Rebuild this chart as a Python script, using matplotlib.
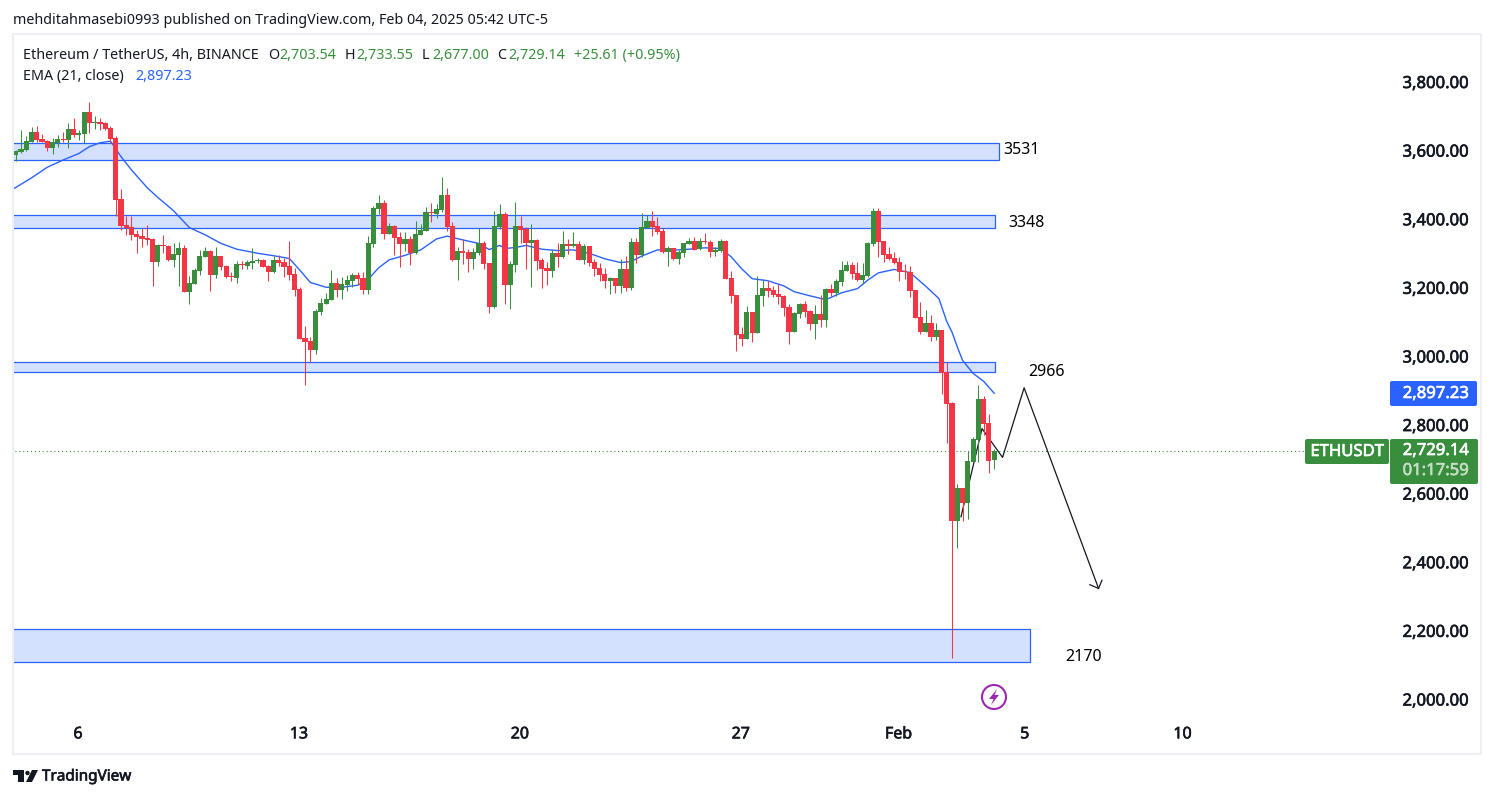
import matplotlib
matplotlib.use('Agg')
import matplotlib.pyplot as plt
import matplotlib.patheffects as pe
from matplotlib.patches import Rectangle, FancyBboxPatch, Circle, Polygon
from matplotlib.transforms import ScaledTranslation

# candles, 4h, oldest first
open_ = [3592,3600,3606,3629,3659,3638,3632,3612,3626,3638,
    3635,3667,3651,3653,3717,3685,3688,3685,3670,3641,
    3463,3387,3382,3361,3355,3350,3347,3280,3329,3326,
    3285,3300,3320,3192,3215,3253,3294,3312,3242,3297,
    3268,3239,3233,3274,3268,3278,3282,3285,3268,3250,
    3285,3280,3268,3245,3201,3058,3049,3023,3134,3157,
    3169,3218,3198,
    3213,3224,3242,3233,3198,3332,3434,3452,3361,3385,3353,3332,3347,3306,3358,3370,
    3426,3420,3431,3475,3385,3286,3312,3309,3289,3306,3335,3277,3149,3382,3420,3213,
    3271,3385,3376,3335,3344,3286,3262,3254,3306,3294,3332,3326,3332,3286,3326,3280,
    3262,3245,3224,3233,3210,3259,3204,3338,3300,3379,3399,3385,3370,3309,3321,3289,
    3305,3332,3340,3317,3340,3338,3308,3311,3340,3233,3183,3069,3055,3133,3072,3180,
    3203,3198,3186,3180,3148,3075,3128,3157,3136,3099,3128,3110,3201,3189,3221,3253,
    3271,3247,3227,3238,3332,3428,3340,3303,3291,3279,3253,3250,3198,3119,3075,3101,3061,
    3081,2958,2868,2524,2620,2577,2696,2760,2880,2810,2703.54]
high = [3606,3664,3647,3673,3676,3653,3635,3641,3650,3659,
    3685,3699,3664,3717,3746,3705,3699,3688,3676,3647,
    3492,3414,3414,3373,3379,3387,3350,3332,3358,3329,
    3335,3338,3329,3239,3262,3315,3323,3315,3323,3297,
    3271,3250,3282,3282,3285,3320,3290,3288,3271,3297,
    3300,3291,3341,3262,3207,3093,3061,3143,3175,3189,
    3256,3233,3236,
    3242,3248,3251,3251,3356,3443,3475,3461,3393,3388,3367,3367,3356,3399,3391,3440,
    3452,3449,3528,3496,3396,3324,3347,3318,3321,3379,3341,3277,3428,3449,3426,3283,
    3455,3414,3382,3391,3347,3291,3280,3315,3335,3370,3347,3367,3341,3332,3326,3289,
    3277,3262,3236,3233,3289,3297,3350,3350,3423,3417,3428,3411,3379,3326,3321,3315,
    3335,3349,3352,3349,3364,3343,3323,3346,3343,3253,3183,3090,3151,3133,3238,3230,
    3224,3209,3215,3183,3157,3133,3160,3166,3139,3154,3183,3203,3215,3230,3282,3282,
    3279,3279,3276,3338,3437,3437,3340,3323,3308,3294,3273,3268,3198,3163,3139,3125,3101,
    3081,2988,2872,2632,2620,2728,2769,2920,2888,2836,2733.55]
low = [3575,3596,3603,3629,3629,3629,3603,3594,3615,3629,
    3612,3644,3635,3626,3657,3667,3664,3664,3626,3414,
    3373,3357,3344,3306,3323,3329,3210,3268,3306,3282,
    3265,3210,3192,3157,3215,3242,3294,3195,3233,3256,
    3233,3224,3218,3259,3259,3259,3277,3265,3224,3248,
    3268,3236,3227,3180,3055,2921,2988,3011,3125,3157,
    3169,3178,3172,
    3195,3207,3213,3187,3187,3324,3420,3347,3361,3300,3265,3312,3271,3303,3358,3370,
    3396,3408,3426,3370,3283,3227,3274,3251,3259,3300,3259,3131,3146,3376,3157,3143,
    3251,3335,3259,3207,3256,3204,3213,3236,3265,3291,3303,3324,3286,3274,3268,3239,
    3224,3204,3187,3189,3189,3195,3198,3277,3294,3379,3356,3361,3306,3268,3286,3274,
    3294,3332,3314,3314,3332,3294,3297,3308,3230,3160,3020,3034,3055,3046,3072,3151,
    3177,3177,3157,3122,3040,3075,3116,3119,3081,3055,3090,3090,3180,3180,3209,3253,
    3230,3224,3215,3236,3326,3294,3279,3285,3273,3224,3230,3177,3116,3069,3075,3049,3052,
    2894,2751,2125,2445,2524,2530,2696,2696,2775,2664,2677.00]
close = [3603,3609,3632,3659,3635,3629,3612,3629,3638,3635,
    3667,3650,3656,3717,3686,3688,3682,3667,3638,3460,
    3385,3379,3357,3352,3347,3344,3280,3329,3326,3285,
    3303,3320,3192,3218,3256,3297,3312,3242,3297,3265,
    3236,3236,3274,3271,3280,3282,3285,3265,3250,3285,
    3277,3265,3242,3198,3055,3046,3023,3137,3160,3172,
    3218,3198,3215,
    3227,3242,3230,3198,3335,3437,3452,3361,3385,3350,3332,3347,3306,3361,3373,3426,
    3423,3434,3475,3382,3286,3312,3306,3289,3309,3335,3274,3149,3385,3420,3213,3274,
    3385,3373,3335,3344,3283,3259,3254,3306,3294,3332,3326,3332,3286,3326,3277,3259,
    3242,3224,3233,3210,3259,3204,3338,3300,3382,3399,3382,3367,3309,3321,3289,3309,
    3335,3340,3314,3340,3338,3308,3314,3340,3230,3180,3066,3055,3133,3072,3183,3203,
    3195,3183,3177,3145,3075,3131,3157,3133,3099,3128,3110,3201,3189,3224,3256,3271,
    3244,3227,3241,3335,3428,3338,3300,3288,3276,3250,3250,3195,3116,3075,3101,3061,3081,
    2957,2865,2524,2620,2577,2699,2763,2880,2807,2699,2729.14]

# EMA 21 read at every few candles
ema_idx = [-1,0,3,6,9,12,14,16,18,20,22,25,27,30,33,36,39,42,46,49,52,54,56,59,62,65,67,69,71,74,77,
    80,82,85,88,90,92,93,95,97,100,103,106,109,112,115,117,119,122,125,128,131,134,136,138,140,143,
    146,148,151,154,157,160,162,164,167,170,173,175.5,177,178,179,180,182,184,186]
ema_val = [3490,3497,3525,3556,3577,3596,3616,3627,3632,3587,3548,3496,3468,3429,3380,3359,3334,3317,
    3305,3298,3290,3256,3220,3206,3206,3212,3229,3263,3286,3299,3315,3347,3355,3344,3334,3316,3328,
    3319,3322,3328,3317,3313,3315,3305,3289,3278,3281,3297,3315,3314,3317,3321,3319,3295,3260,3231,
    3225,3210,3193,3181,3170,3190,3202,3227,3248,3258,3249,3209,3173,3106,3075,3032,2993,2955,2932,2897.23]

# support / resistance zones: top, bottom, right end (candle number)
zone_top = [3626,3416,2987,2209]
zone_bot = [3576,3378,2958,2113]
zone_end = [186.9,186.1,186.1,192.9]

# the hand drawn path
path_idx = [179.7,183.7,187.6,191.7,205.85]
path_val = [2537,2794,2710,2913,2328]
head_idx = [204.2,205.85,206.5]
head_val = [2339,2328,2352]

price_ticks = [2000,2200,2400,2600,2800,3000,3200,3400,3600,3800]
date_days = [0,7,14,21,26,30,35]
date_labels = ['6','13','20','27','Feb','5','10']

last_price = 2729.14
ema_last = 2897.23

GREEN = '#388e3c'
RED = '#f23645'
BLUE = '#2962ff'
INK = '#131722'
plt.rcParams['font.family'] = ['Noto Sans', 'DejaVu Sans']

def heavy(c):
    # Noto Sans has no semibold here, thicken the outline a bit
    return [pe.withStroke(linewidth=0.45, foreground=c)]

fig = plt.figure(figsize=(14.94,7.98), dpi=100, facecolor='white')
W, H = 1494, 798

# chart axes, x is candle number, y is price
ax = fig.add_axes([14/W, 1-718/H, (1390-14)/W, (718-35)/H])
ax.set_xlim(-0.337, 261.26)
ax.set_ylim(1950.4, 3941.4)
for s in ax.spines.values():
    s.set_visible(False)

ax.yaxis.tick_right()
ax.set_yticks(price_ticks)
ax.set_yticklabels([f'{v:,.2f}' for v in price_ticks], fontsize=12, color=INK)
ax.tick_params(axis='y', length=0, pad=9.0)
up = ScaledTranslation(0, 1.5/100, fig.dpi_scale_trans)
for lab in ax.get_yticklabels():
    lab.set_transform(lab.get_transform() + up)
    lab.set_path_effects(heavy(INK))
ax.set_xticks([11.83 + d*6 for d in date_days])
ax.set_xticklabels(date_labels, fontsize=11.5, color=INK)
ax.tick_params(axis='x', length=0, pad=6)
for lab in ax.get_xticklabels():
    lab.set_path_effects(heavy(INK))

for t, b, e in zip(zone_top, zone_bot, zone_end):
    ax.add_patch(Rectangle((-5, b), e+5, t-b, fc='#d3e0fe', ec=BLUE, lw=0.9, zorder=2))

ax.plot(path_idx, path_val, color=INK, lw=0.9, zorder=2.5)
ax.plot(head_idx, head_val, color=INK, lw=0.9, zorder=2.5)
ax.plot(ema_idx, ema_val, color=BLUE, lw=1.0, zorder=3)
ax.hlines(last_price, -1, 245, color=GREEN, lw=0.8, linestyles=(0,(1,2.5)), zorder=2.6)

idx = list(range(len(close)))
colors = [GREEN if c >= o else RED for o, c in zip(open_, close)]
wicks = ax.vlines(idx, low, high, colors=colors, lw=0.75, zorder=4)
wicks.set_snap(True)
tops = [max(o, c) for o, c in zip(open_, close)]
bots = [min(o, c) for o, c in zip(open_, close)]
ax.bar(idx, [max(t-b, 3) for t, b in zip(tops, bots)], bottom=bots, width=0.98, color=colors, lw=0, zorder=5)

# overlay in pixels for frame, header, tags and logo
ov = fig.add_axes([0,0,1,1], facecolor='none')
ov.set_xlim(0,W)
ov.set_ylim(H,0)
ov.axis('off')
ov.add_patch(Rectangle((13,34), 1468, 720, fc='none', ec='#eef0f5', lw=1.5))

ov.text(13, 20.5, 'mehditahmasebi0993 published on TradingView.com, Feb 04, 2025 05:42 UTC-5', fontsize=10.3, color=INK, va='center')

ov.text(23, 55.5, 'Ethereum / TetherUS, 4h, BINANCE', fontsize=10.3, color=INK, va='center')
for x, s, c in [(268,'O',INK),(279,'2,703.54',GREEN),(345,'H',INK),(356,'2,733.55',GREEN),(422,'L',INK),
                (432,'2,677.00',GREEN),(497,'C',INK),(508,'2,729.14',GREEN),(574,'+25.61 (+0.95%)',GREEN)]:
    ov.text(x, 55.5, s, fontsize=10.3, color=c, va='center')
ov.text(23, 76.5, 'EMA (21, close)', fontsize=10.3, color=INK, va='center')
ov.text(135, 76.5, '2,897.23', fontsize=10.3, color=BLUE, va='center')

for x, y, s in [(1003,150,'3531'),(1008,223,'3348'),(1028,372,'2966'),(1065,657,'2170')]:
    ov.text(x, y, s, fontsize=11.5, color='black', va='center')

# price tags
ov.add_patch(FancyBboxPatch((1390,381), 87, 25, boxstyle='round,pad=0,rounding_size=2', fc=BLUE, ec='none'))
ov.text(1436, 394, f'{ema_last:,.2f}', fontsize=12, color='white', ha='center', va='center', path_effects=heavy('white'))
ov.add_patch(FancyBboxPatch((1305,439), 84, 25, boxstyle='round,pad=0,rounding_size=2', fc=GREEN, ec='none'))
ov.text(1347, 452, 'ETHUSDT', fontsize=12, color='white', ha='center', va='center', path_effects=heavy('white'))
ov.add_patch(FancyBboxPatch((1390,439), 88, 45, boxstyle='round,pad=0,rounding_size=2', fc=GREEN, ec='none'))
ov.text(1436, 451, f'{last_price:,.2f}', fontsize=12, color='white', ha='center', va='center', path_effects=heavy('white'))
ov.text(1436, 471, '01:17:59', fontsize=12, color='#c4ddc5', ha='center', va='center', path_effects=heavy('#c4ddc5'))

# lightning badge
ov.add_patch(Circle((994,697), 12, fc='none', ec='#9c27b0', lw=1.5))
ov.add_patch(Polygon([(997,689),(989,699),(993.5,699),(991,705),(999,695),(994.5,695)], fc='#9c27b0', ec='none'))

# logo
ov.add_patch(Polygon([(13,770),(24,770),(24,782),(18,782),(18,775),(13,775)], fc=INK, ec='none'))
ov.add_patch(Circle((27.5,773), 2.2, fc=INK, ec='none'))
ov.add_patch(Polygon([(32,770),(38,770),(32,782),(26,782)], fc=INK, ec='none'))
ov.text(42, 777, 'TradingView', fontsize=11, color=INK, va='center', path_effects=heavy(INK))

fig.savefig('out.png', dpi=100)
